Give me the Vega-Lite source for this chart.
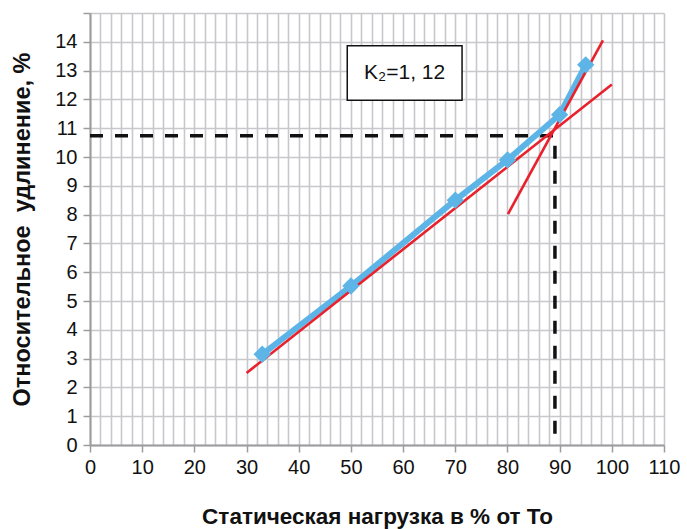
{
  "$schema": "https://vega.github.io/schema/vega-lite/v6.json",
  "width": 574,
  "height": 432,
  "autosize": {"type": "none"},
  "padding": {"left": 90, "top": 13, "right": 23, "bottom": 84},
  "background": "white",
  "config": {
    "view": {"stroke": null},
    "font": "Liberation Sans",
    "axis": {
      "labelFont": "Liberation Sans",
      "labelFontSize": 20,
      "labelColor": "#111111",
      "labelOverlap": false,
      "titleFont": "Liberation Sans",
      "titleFontSize": 22.5,
      "titleFontWeight": "bold",
      "titleColor": "#111111",
      "domainColor": "#9c9c9f",
      "domainWidth": 2,
      "tickColor": "#9c9c9f",
      "tickWidth": 1.5,
      "tickSize": 7,
      "gridColor": "#c8c8cc",
      "gridWidth": 1.6,
      "gridOpacity": 1
    }
  },
  "datasets": {
    "measured": [
      {"load": 33, "elong": 3.15},
      {"load": 50, "elong": 5.52},
      {"load": 70, "elong": 8.5},
      {"load": 80, "elong": 9.9},
      {"load": 90, "elong": 11.47},
      {"load": 95, "elong": 13.2}
    ],
    "fits": [
      {"load": 30, "elong": 2.5, "series": "a"},
      {"load": 100, "elong": 12.52, "series": "a"},
      {"load": 80.1, "elong": 8.02, "series": "b"},
      {"load": 98.3, "elong": 14.05, "series": "b"}
    ],
    "guide": [
      {"load": 0, "elong": 10.74, "ord": 1},
      {"load": 89.1, "elong": 10.74, "ord": 2},
      {"load": 89.1, "elong": 0, "ord": 3}
    ],
    "note": [
      {"x1": 49.3, "x2": 71.3, "y1": 11.97, "y2": 13.86, "xm": 60.3, "ym": 12.9, "label": "K₂=1, 12"}
    ]
  },
  "layer": [
    {
      "data": {"name": "guide"},
      "mark": {"type": "line", "color": "#111111", "strokeWidth": 3.5, "strokeDash": [13, 12], "clip": true},
      "encoding": {
        "x": {
          "field": "load", "type": "quantitative",
          "scale": {"domain": [0, 110], "nice": false},
          "axis": {
            "values": [0,2,4,6,8,10,12,14,16,18,20,22,24,26,28,30,32,34,36,38,40,42,44,46,48,50,52,54,56,58,60,62,64,66,68,70,72,74,76,78,80,82,84,86,88,90,92,94,96,98,100,102,104,106,108,110],
            "tickCount": 500,
            "format": "d",
            "labelExpr": "datum.value % 10 === 0 ? datum.label : ''",
            "tickOpacity": {"condition": {"test": "datum.value % 10 === 0", "value": 1}, "value": 0},
            "labelPadding": 5,
            "labelFlush": false,
            "title": "Статическая нагрузка в % от То",
            "titlePadding": 28
          }
        },
        "y": {
          "field": "elong", "type": "quantitative",
          "scale": {"domain": [0, 15], "nice": false},
          "axis": {
            "values": [0,1,2,3,4,5,6,7,8,9,10,11,12,13,14,15],
            "tickCount": 500,
            "format": "d",
            "labelExpr": "datum.value === 15 ? '' : datum.label",
            "labelPadding": 6,
            "labelFlush": false,
            "title": "Относительное\u00a0 удлинение, %",
            "titleFontSize": 23.5,
            "titlePadding": 20
          }
        },
        "order": {"field": "ord", "type": "quantitative"}
      }
    },
    {
      "data": {"name": "measured"},
      "mark": {"type": "line", "color": "#5db4e6", "strokeWidth": 6},
      "encoding": {
        "x": {"field": "load", "type": "quantitative"},
        "y": {"field": "elong", "type": "quantitative"}
      }
    },
    {
      "data": {"name": "fits"},
      "mark": {"type": "line", "color": "#e8212c", "strokeWidth": 2.6},
      "encoding": {
        "x": {"field": "load", "type": "quantitative"},
        "y": {"field": "elong", "type": "quantitative"},
        "detail": {"field": "series", "type": "nominal"}
      }
    },
    {
      "data": {"name": "measured"},
      "mark": {"type": "point", "shape": "diamond", "filled": true, "color": "#5db4e6", "opacity": 1, "size": 300},
      "encoding": {
        "x": {"field": "load", "type": "quantitative"},
        "y": {"field": "elong", "type": "quantitative"}
      }
    },
    {
      "data": {"name": "note"},
      "mark": {"type": "rect", "fill": "white", "stroke": "#111111", "strokeWidth": 1.5},
      "encoding": {
        "x": {"field": "x1", "type": "quantitative"},
        "x2": {"field": "x2"},
        "y": {"field": "y1", "type": "quantitative"},
        "y2": {"field": "y2"}
      }
    },
    {
      "data": {"name": "note"},
      "mark": {"type": "text", "font": "Liberation Sans", "fontSize": 21, "color": "#111111", "align": "center", "baseline": "middle"},
      "encoding": {
        "x": {"field": "xm", "type": "quantitative"},
        "y": {"field": "ym", "type": "quantitative"},
        "text": {"field": "label"}
      }
    }
  ]
}
